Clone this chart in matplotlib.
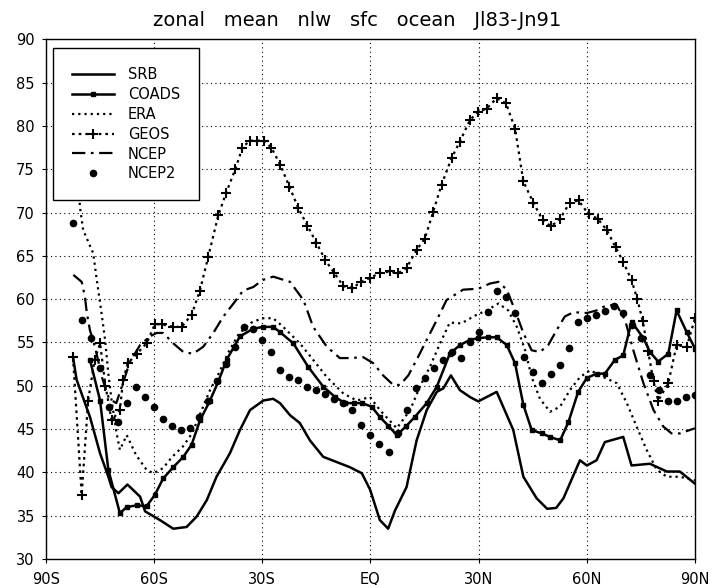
import numpy as np
import matplotlib.pyplot as plt

# zonal mean net longwave, surface, ocean only
srb_lat = [-82.5, -81.5, -77.8, -75.0, -72.7, -71.8, -69.9, -67.4, -63.9, -62.5, -58.4, -54.7,
           -51.0, -48.2, -45.4, -42.7, -39.0, -36.2, -33.4, -29.7, -27.0, -25.1, -22.3, -19.6,
           -16.8, -13.1, -9.4, -5.7, -2.4, -0.1, 2.6, 4.9, 6.8, 10.0, 12.8, 15.6, 18.4, 20.2,
           22.3, 24.8, 27.6, 29.9, 35.0, 39.6, 42.4, 46.1, 49.0, 51.5, 53.5, 58.1, 60.0, 62.7,
           65.0, 70.1, 72.4, 77.5, 82.2, 85.8, 90.0]
srb_val = [53.3, 50.7, 46.4, 42.2, 39.5, 38.3, 37.6, 38.6, 37.2, 35.5, 34.5, 33.5,
           33.7, 34.9, 36.8, 39.5, 42.2, 44.9, 47.2, 48.3, 48.5, 48.0, 46.6, 45.7,
           43.7, 41.8, 41.2, 40.6, 39.9, 38.0, 34.5, 33.5, 35.6, 38.3, 43.7, 47.2, 49.3, 49.7,
           51.2, 49.5, 48.7, 48.2, 49.3, 44.9, 39.5, 37.0, 35.8, 35.9, 37.0, 41.4, 40.8, 41.4,
           43.5, 44.1, 40.8, 41.0, 40.1, 40.1, 38.7]

coads_lat = [-77.8, -75.0, -72.7, -69.5, -67.6, -64.8, -62.1, -59.8, -57.5, -54.7, -51.9, -49.6,
             -47.3, -44.5, -42.2, -39.9, -36.2, -32.5, -29.7, -27.0, -25.1, -21.4, -17.3, -13.1,
             -9.8, -7.1, -4.7, -2.4, 0.3, 2.6, 4.9, 7.3, 9.8, 12.3, 15.6, 18.4, 22.0, 24.8, 27.6,
             29.9, 32.5, 35.0, 37.8, 40.1, 42.4, 44.7, 47.5, 49.8, 52.6, 54.9, 57.6, 60.0, 62.7,
             65.0, 67.8, 70.1, 72.4, 75.7, 77.5, 79.8, 82.6, 84.9, 87.7, 90.0]
coads_val = [53.0, 48.3, 40.3, 35.3, 36.0, 36.2, 36.1, 37.4, 39.3, 40.6, 41.8, 43.2,
             46.0, 48.3, 50.5, 53.0, 55.7, 56.6, 56.8, 56.8, 56.2, 54.9, 52.2, 49.9,
             48.7, 48.0, 48.0, 48.0, 47.6, 46.4, 45.4, 44.3, 45.3, 46.4, 48.0, 49.9, 53.7, 54.7, 55.3,
             55.5, 55.6, 55.6, 54.7, 52.6, 47.8, 44.9, 44.5, 44.1, 43.7, 45.8, 49.3, 50.9, 51.4,
             51.4, 53.0, 53.5, 57.4, 55.5, 53.9, 52.8, 53.7, 58.7, 56.2, 54.3]

era_lat = [-81.0, -80.6, -79.7, -76.9, -75.9, -74.6, -73.6, -72.7, -71.8, -70.4, -69.5, -67.6,
           -65.0, -62.1, -60.2, -57.5, -55.0, -52.0, -49.5, -47.0, -44.5, -42.0, -39.5, -36.5,
           -33.0, -30.0, -27.0, -24.2, -19.6, -15.9, -12.1, -7.5, -3.8, -0.1, 2.6, 7.3, 11.0,
           13.7, 16.5, 19.3, 22.0, 25.2, 29.0, 32.2, 35.5, 38.2, 40.6, 42.9, 44.7, 47.0, 49.8,
           52.6, 55.3, 58.1, 60.9, 64.6, 68.3, 71.1, 73.8, 76.6, 79.4, 82.2, 85.8, 90.0]
era_val = [74.0, 70.7, 68.0, 65.3, 62.2, 58.4, 55.3, 51.4, 48.3, 44.5, 42.6, 44.3,
           42.0, 40.3, 39.9, 40.5, 41.8, 43.0, 44.5, 47.0, 49.5, 51.5, 53.8, 56.0,
           57.3, 57.8, 57.8, 56.8, 54.9, 53.0, 51.0, 49.1, 48.3, 48.7, 47.2, 45.1, 47.2,
           49.9, 52.2, 54.9, 57.3, 57.2, 58.1, 58.7, 59.5, 58.7, 56.8, 54.1, 51.0, 48.5, 47.0,
           47.6, 49.5, 51.0, 51.8, 51.0, 50.3, 48.0, 45.3, 42.6, 40.3, 39.5, 39.5, 39.1]

geos_lat = [-82.5, -80.1, -78.3, -76.5, -75.0, -73.5, -71.8, -69.5, -68.6, -67.3, -64.8, -62.1,
            -59.8, -57.9, -54.7, -52.4, -49.6, -47.3, -45.0, -42.2, -40.0, -37.5, -35.5, -33.5,
            -31.5, -29.5, -27.5, -25.0, -22.5, -20.0, -17.5, -15.0, -12.5, -10.0, -7.5, -5.0,
            -2.5, 0.0, 2.6, 5.4, 7.7, 10.0, 12.8, 15.1, 17.4, 19.7, 22.5, 24.8, 27.6, 29.9,
            32.2, 35.0, 37.6, 40.1, 42.4, 45.2, 47.8, 50.1, 52.6, 55.2, 57.7, 60.5, 63.0, 65.5,
            68.0, 70.1, 72.4, 74.0, 75.5, 77.0, 78.5, 79.8, 82.6, 84.9, 87.7, 90.0]
geos_val = [53.3, 37.4, 48.3, 53.0, 54.9, 50.0, 46.0, 47.2, 50.7, 52.6, 53.7, 54.9,
            57.1, 57.1, 56.8, 56.8, 58.2, 61.0, 64.9, 69.7, 72.3, 75.0, 77.5, 78.3,
            78.3, 78.3, 77.5, 75.5, 73.0, 70.5, 68.5, 66.5, 64.5, 63.0, 61.5, 61.3,
            62.0, 62.5, 63.0, 63.2, 63.0, 63.6, 65.7, 67.0, 70.1, 73.2, 76.3, 78.2, 80.7, 81.6,
            82.0, 83.2, 82.6, 79.7, 73.6, 71.1, 69.1, 68.4, 69.3, 71.1, 71.4, 69.8, 69.3, 68.0,
            66.0, 64.3, 62.2, 60.0, 57.5, 54.0, 50.5, 48.3, 50.3, 54.7, 54.5, 57.8]

ncep_lat = [-82.4, -80.1, -79.2, -78.7, -77.8, -76.4, -74.5, -72.5, -70.5, -68.5, -66.7, -63.9,
            -61.2, -59.3, -57.5, -54.7, -51.9, -49.2, -46.4, -43.6, -40.8, -38.0, -35.3, -32.5,
            -30.0, -27.0, -22.3, -18.6, -15.9, -12.1, -8.5, -5.7, -2.0, 0.8, 3.5, 6.3, 8.2, 10.5,
            12.8, 15.6, 18.4, 21.1, 25.7, 29.9, 33.1, 35.5, 37.8, 40.1, 42.4, 44.7, 47.0, 49.3,
            51.6, 53.9, 56.3, 60.0, 62.7, 65.5, 68.3, 70.6, 72.9, 75.7, 78.5, 81.2, 83.5, 85.8, 90.0]
ncep_val = [62.8, 62.0, 60.3, 58.5, 56.4, 54.5, 51.0, 48.5, 48.0, 50.5, 52.8, 54.7,
            55.7, 56.1, 56.1, 54.9, 53.9, 53.7, 54.5, 56.1, 58.0, 59.5, 61.0, 61.4,
            62.2, 62.6, 62.0, 59.9, 56.8, 54.5, 53.2, 53.2, 53.3, 52.6, 51.2, 50.1, 50.1, 51.2,
            53.0, 55.3, 57.6, 59.9, 61.1, 61.2, 61.8, 62.0, 61.1, 58.7, 56.1, 54.1, 53.9, 54.7,
            56.4, 58.0, 58.5, 58.4, 58.7, 59.3, 59.3, 57.6, 54.1, 50.3, 47.2, 45.3, 44.5, 44.5, 45.1]

ncep2_lat = [-82.5, -80.0, -77.5, -75.0, -72.5, -70.0, -67.5, -65.0, -62.5, -60.0, -57.5, -55.0,
             -52.5, -50.0, -47.5, -45.0, -42.5, -40.0, -37.5, -35.0, -32.5, -30.0, -27.5, -25.0,
             -22.5, -20.0, -17.5, -15.0, -12.5, -10.0, -7.5, -5.0, -2.5, 0.0, 2.5, 5.0, 7.5, 10.0,
             12.5, 15.0, 17.5, 20.0, 22.5, 25.0, 27.5, 30.0, 32.5, 35.0, 37.5, 40.0, 42.5, 45.0,
             47.5, 50.0, 52.5, 55.0, 57.5, 60.0, 62.5, 65.0, 67.5, 70.0, 72.5, 75.0, 77.5, 80.0,
             82.5, 85.0, 87.5, 90.0]
ncep2_val = [68.8, 57.6, 55.5, 52.0, 47.5, 45.8, 48.0, 49.9, 48.7, 47.6, 46.2, 45.3,
             44.9, 45.1, 46.4, 48.2, 50.5, 52.5, 54.5, 56.8, 56.5, 55.3, 53.9, 51.8,
             51.0, 50.7, 49.9, 49.5, 49.0, 48.5, 48.0, 47.2, 45.5, 44.3, 43.3, 42.4, 44.5, 47.2,
             49.7, 50.9, 52.0, 53.0, 53.9, 53.2, 55.0, 56.2, 58.5, 61.0, 60.3, 58.4, 53.3, 51.6,
             50.3, 51.4, 52.4, 54.4, 57.4, 57.8, 58.2, 58.6, 59.2, 58.4, 57.0, 55.5, 51.2, 49.5,
             48.2, 48.2, 48.7, 48.9]

xticks = [-90, -60, -30, 0, 30, 60, 90]
xlabels = ['90S', '60S', '30S', 'EQ', '30N', '60N', '90N']
yticks = np.arange(30, 91, 5)

fig = plt.figure(figsize=(7.15, 5.85), dpi=100)
ax = fig.add_axes([0.0643, 0.0444, 0.9077, 0.8884])

ax.plot(srb_lat, srb_val, color='black', lw=1.8, label='SRB')
ax.plot(coads_lat, coads_val, color='black', lw=1.8, marker='s', ms=3.5, label='COADS')
ax.plot(era_lat, era_val, color='black', lw=1.6, ls=(0, (1, 1.8)), label='ERA')
ax.plot(geos_lat, geos_val, color='black', lw=1.6, ls=(0, (1.2, 1.8)), marker='+', ms=7,
        mew=1.5, label='GEOS')
ax.plot(ncep_lat, ncep_val, color='black', lw=1.6, ls=(0, (6, 2.5, 1.2, 2.5)), label='NCEP')
ax.plot(ncep2_lat, ncep2_val, color='black', lw=0, ls='none', marker='o', ms=4.5, label='NCEP2')

ax.set_xlim(-90, 90)
ax.set_ylim(30, 90)
ax.set_xticks(xticks)
ax.set_xticklabels(xlabels)
ax.set_yticks(yticks)
ax.tick_params(direction='out', length=3, width=0.8, labelsize=10.5, pad=5)
ax.tick_params(axis='x', pad=6)
ax.grid(True, color='black', lw=0.8, ls=(0, (1, 3)))
for s in ax.spines.values():
    s.set_linewidth(1.0)

leg = ax.legend(loc='upper left', bbox_to_anchor=(0.0103, 0.9827), fontsize=10.5,
                frameon=True, fancybox=False, edgecolor='black', framealpha=1,
                handlelength=2.9, handletextpad=0.95, labelspacing=0.33, borderpad=1.3,
                numpoints=1, borderaxespad=0)
leg.get_frame().set_linewidth(1.0)
leg.set_zorder(5)

fig.text(0.5, 1 - 20 / 585, 'zonal   mean   nlw   sfc   ocean   Jl83-Jn91', ha='center',
         va='center', fontsize=14)

fig.savefig('out.png', dpi=100)
